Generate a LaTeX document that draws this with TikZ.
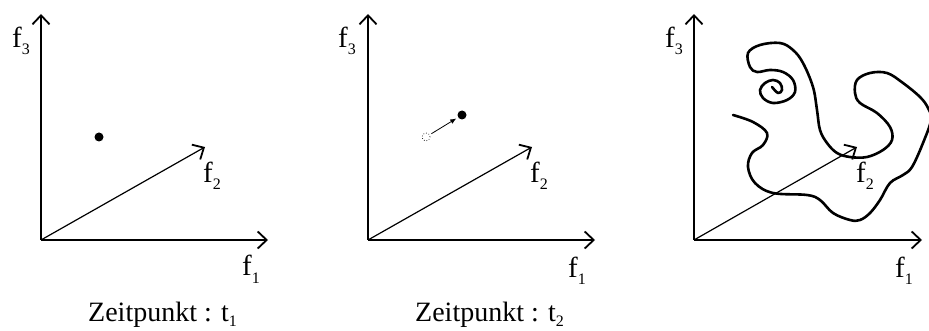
\documentclass[tikz,border=0pt]{standalone}
\usepackage{fontspec}
\setmainfont{Liberation Serif}
\usetikzlibrary{arrows.meta}
\newcommand\lab[2]{#1\raisebox{-7pt}{\fontsize{16}{16}\selectfont #2}}
\newcommand\caplab[2]{#1\raisebox{-5pt}{\fontsize{16}{16}\selectfont #2}}
\begin{document}
\begin{tikzpicture}[x=1pt,y=-1pt,
  axis/.style={line width=1.8pt,-{Straight Barb[length=9pt,width=17pt,line width=1.8pt]}},
  diag/.style={line width=1.2pt,-{Straight Barb[length=9pt,width=17pt,line width=1.8pt]}},
  lbl/.style={anchor=base west,inner sep=0pt,font=\fontsize{29}{32}\selectfont},
  captext/.style={anchor=base west,inner sep=0pt,font=\fontsize{28}{32}\selectfont},
  dotf/.style={circle,fill=black,inner sep=0pt,minimum size=9pt},
  curve/.style={line width=2.6pt,line cap=round,line join=round}]
\useasboundingbox (0,0) rectangle (929,331);
\clip (0,0) rectangle (929,331);
% panel 1
\coordinate (o1) at (41,240);
\coordinate (x1) at (268,240);
\coordinate (y1) at (41,14);
\coordinate (z1) at (205,147);
\draw[axis] (o1) -- (x1);
\draw[axis] (o1) -- (y1);
\draw[diag] (o1) -- (z1);
\node[dotf] (p1) at (99,137) {};
\node[lbl] (f31) at (12,48) {\lab{f}{3}};
\node[lbl] (f21) at (203,183) {\lab{f}{2}};
\node[lbl] (f11) at (242,276) {\lab{f}{1}};
\node[captext] (c1) at (88,321) {\caplab{Zeitpunkt : t}{1}};
% panel 2
\coordinate (o2) at (368,240);
\coordinate (x2) at (595,240);
\coordinate (y2) at (368,14);
\coordinate (z2) at (532,147);
\draw[axis] (o2) -- (x2);
\draw[axis] (o2) -- (y2);
\draw[diag] (o2) -- (z2);
\node[dotf] (p2) at (462,115) {};
\node[circle,draw,dotted,line width=0.7pt,inner sep=0pt,minimum size=8pt] (q2) at (426,137) {};
\draw[line width=0.8pt,-{Latex[length=6pt,width=5pt]},shorten <=2pt,shorten >=2pt] (q2) -- (p2);
\node[lbl] (f32) at (338,48) {\lab{f}{3}};
\node[lbl] (f22) at (530,183) {\lab{f}{2}};
\node[lbl] (f12) at (568,277) {\lab{f}{1}};
\node[captext] (c2) at (415,321) {\caplab{Zeitpunkt : t}{2}};
% panel 3
\coordinate (o3) at (694,240);
\coordinate (x3) at (922,240);
\coordinate (y3) at (694,14);
\coordinate (z3) at (857,147);
\draw[axis] (o3) -- (x3);
\draw[axis] (o3) -- (y3);
\draw[diag] (o3) -- (z3);
\node[lbl] (f33) at (665,48) {\lab{f}{3}};
\node[lbl] (f23) at (856,183) {\lab{f}{2}};
\node[lbl] (f13) at (895,277) {\lab{f}{1}};
\draw[curve] plot[smooth,tension=0.6] coordinates {
 (733,115) (753,122) (767,133) (763,145) (752,153) (748,167) (755,183)
 (773,193) (807,195) (820,200) (833,213) (850,220) (860,220) (870,213)
 (880,200) (890,183) (903,175) (912,167) (923,143) (931,120) (928,108)
 (920,97) (903,83) (887,73) (870,73) (857,80) (855,93) (860,103)
 (877,113) (890,127) (892,140) (883,150) (867,157) (850,157) (837,153)
 (827,143) (820,130) (817,110) (813,87) (803,63) (793,50) (780,43)
 (760,45) (748,53) (750,67) (757,72) (770,70) (783,72) (793,80)
 (795,92) (787,100) (773,103) (763,98) (760,90) (765,83) (773,80)
 (780,83) (782,90) (778,93) (772,87)};
\end{tikzpicture}
\end{document}
